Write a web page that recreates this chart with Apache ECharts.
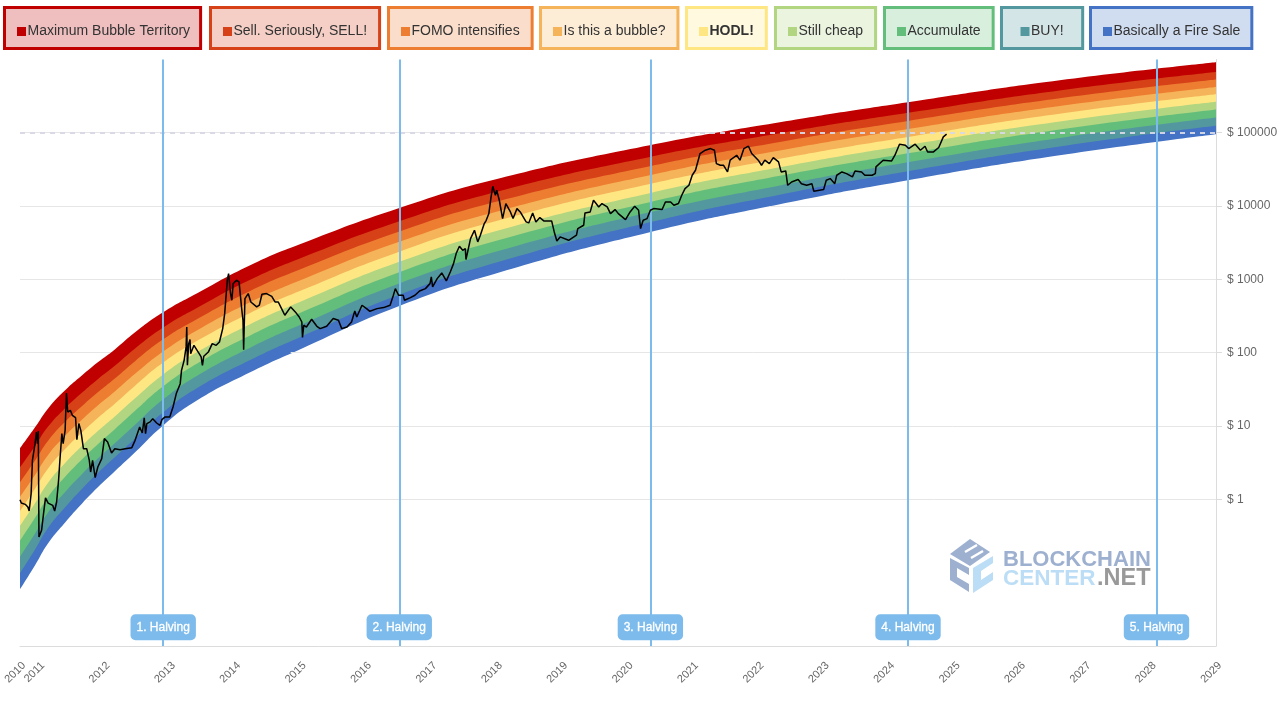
<!DOCTYPE html>
<html>
<head>
<meta charset="utf-8">
<title>Bitcoin Rainbow Price Chart</title>
<script src="https://cdn.jsdelivr.net/npm/echarts@6/dist/echarts.min.js"></script>
<style>
  html, body { margin: 0; padding: 0; background: #fff; }
  #chart { width: 1285px; height: 703px; }
</style>
</head>
<body>
<div id="chart"></div>
<script>
// band names, top band first
const bandNames = ['Maximum Bubble Territory', 'Sell. Seriously, SELL!', 'FOMO intensifies', 'Is this a bubble?', 'HODL!', 'Still cheap', 'Accumulate', 'BUY!', 'Basically a Fire Sale'];
const bandColors = ['#c00000', '#d64118', '#ed7d31', '#f6b45a', '#fee783', '#b1d580', '#63be7b', '#54989f', '#4472c4'];

// axis ticks
const yearTicks = [2010.71, 2011, 2012, 2013, 2014, 2015, 2016, 2017, 2018, 2019, 2020, 2021, 2022, 2023, 2024, 2025, 2026, 2027, 2028, 2029];
const priceTicks = [1, 10, 100, 1000, 10000, 100000];
const priceMin = 0.01;

// year where each grid line comes out from under the rainbow
const gridPrices = [1, 10, 100, 1000, 10000];
const gridExitYears = [2011.73, 2012.89, 2014.85, 2017.70, 2022.17];

// halvings
const halvingYears = [2012.90, 2016.51, 2020.35, 2024.29, 2028.09];
const halvingNames = ['1. Halving', '2. Halving', '3. Halving', '4. Halving', '5. Halving'];
const halvingLabelPrice = 0.018;

// rainbow edges read at these years
const edgeYears = [2010.71, 2010.94, 2011.14, 2011.40, 2011.66, 2011.90, 2012.16, 2012.47, 2012.90, 2013.42, 2014.23, 2014.99, 2016.50, 2018.05, 2020.34, 2022.33, 2024.29, 2026.61, 2029];
const edge0 = [4.97, 9.59, 17.4, 30.7, 49.2, 74.0, 111, 190, 356, 646, 1556, 3010, 9330, 23900, 67500, 139000, 261000, 520000, 916000];
const edge1 = [2.73, 5.35, 9.82, 17.5, 28.6, 43.6, 66.2, 114, 220, 410, 989, 1930, 6170, 16100, 46700, 98200, 187000, 378000, 675000];
const edge2 = [1.71, 3.39, 6.30, 11.4, 18.7, 28.8, 44.4, 76.7, 152, 288, 695, 1360, 4460, 11800, 35000, 75000, 145000, 295000, 532000];
const edge3 = [1.08, 2.15, 4.04, 7.35, 12.3, 19.1, 29.6, 51.6, 104, 203, 489, 966, 3230, 8650, 26300, 57100, 112000, 231000, 420000];
const edge4 = [0.692, 1.40, 2.64, 4.85, 8.22, 12.9, 20.2, 35.5, 73.3, 145, 349, 693, 2370, 6440, 20000, 44200, 87700, 182000, 335000];
const edge5 = [0.435, 0.885, 1.69, 3.13, 5.38, 8.53, 13.5, 23.9, 50.5, 102, 245, 491, 1720, 4720, 15000, 33700, 67800, 142000, 264000];
const edge6 = [0.273, 0.561, 1.08, 2.03, 3.53, 5.65, 9.04, 16.1, 34.8, 71.4, 172, 347, 1240, 3460, 11300, 25800, 52400, 111000, 208000];
const edge7 = [0.164, 0.341, 0.665, 1.26, 2.22, 3.60, 5.82, 10.4, 23.1, 48.6, 117, 238, 873, 2470, 8240, 19100, 39500, 84700, 161000];
const edge8 = [0.0984, 0.207, 0.409, 0.782, 1.40, 2.29, 3.74, 6.75, 15.4, 33.0, 79.6, 163, 612, 1750, 6010, 14300, 29800, 64700, 124000];
const edge9 = [0.0592, 0.126, 0.251, 0.485, 0.881, 1.46, 2.41, 4.38, 10.2, 22.4, 54.1, 111, 430, 1250, 4400, 10600, 22500, 49300, 95500];
const bandEdges = [edge0, edge1, edge2, edge3, edge4, edge5, edge6, edge7, edge8, edge9];

// bitcoin price
const btcYears = [
  2010.71, 2010.73, 2010.79, 2010.83, 2010.85, 2010.88, 2010.90, 2010.94, 2010.96, 2010.98, 2010.99, 2011.00, 2011.03, 2011.04, 2011.07, 2011.10, 2011.14, 2011.21, 2011.24, 2011.27,
  2011.30, 2011.32, 2011.35, 2011.37, 2011.40, 2011.42, 2011.44, 2011.48, 2011.51, 2011.56, 2011.58, 2011.61, 2011.64, 2011.68, 2011.73, 2011.77, 2011.79, 2011.82, 2011.86, 2011.90,
  2011.96, 2012.00, 2012.05, 2012.11, 2012.16, 2012.24, 2012.32, 2012.42, 2012.47, 2012.54, 2012.58, 2012.61, 2012.63, 2012.65, 2012.70, 2012.74, 2012.80, 2012.85, 2012.88, 2012.93,
  2013.00, 2013.05, 2013.10, 2013.16, 2013.18, 2013.22, 2013.25, 2013.26, 2013.27, 2013.29, 2013.31, 2013.32, 2013.37, 2013.40, 2013.45, 2013.48, 2013.50, 2013.52, 2013.59, 2013.65,
  2013.71, 2013.76, 2013.81, 2013.84, 2013.88, 2013.90, 2013.93, 2013.95, 2013.97, 2014.02, 2014.06, 2014.10, 2014.12, 2014.13, 2014.15, 2014.20, 2014.24, 2014.27, 2014.33, 2014.37,
  2014.41, 2014.48, 2014.56, 2014.61, 2014.66, 2014.71, 2014.76, 2014.85, 2014.92, 2014.98, 2015.02, 2015.03, 2015.05, 2015.09, 2015.17, 2015.25, 2015.30, 2015.40, 2015.50, 2015.58,
  2015.63, 2015.71, 2015.78, 2015.83, 2015.86, 2015.94, 2016.01, 2016.06, 2016.17, 2016.27, 2016.37, 2016.42, 2016.45, 2016.50, 2016.57, 2016.59, 2016.68, 2016.75, 2016.82, 2016.91,
  2016.98, 2017.00, 2017.02, 2017.09, 2017.16, 2017.23, 2017.29, 2017.34, 2017.38, 2017.43, 2017.48, 2017.52, 2017.53, 2017.60, 2017.66, 2017.71, 2017.75, 2017.81, 2017.84, 2017.88,
  2017.91, 2017.94, 2017.98, 2018.00, 2018.04, 2018.09, 2018.14, 2018.17, 2018.21, 2018.25, 2018.31, 2018.36, 2018.45, 2018.49, 2018.55, 2018.60, 2018.66, 2018.72, 2018.84, 2018.88,
  2018.92, 2018.97, 2019.10, 2019.22, 2019.24, 2019.33, 2019.35, 2019.43, 2019.48, 2019.52, 2019.56, 2019.61, 2019.69, 2019.74, 2019.81, 2019.86, 2019.97, 2020.04, 2020.11, 2020.17,
  2020.20, 2020.24, 2020.30, 2020.35, 2020.40, 2020.53, 2020.58, 2020.66, 2020.71, 2020.78, 2020.83, 2020.88, 2020.94, 2020.99, 2021.04, 2021.11, 2021.19, 2021.22, 2021.27, 2021.33,
  2021.36, 2021.42, 2021.47, 2021.53, 2021.57, 2021.67, 2021.72, 2021.78, 2021.85, 2021.90, 2022.00, 2022.05, 2022.10, 2022.17, 2022.23, 2022.31, 2022.35, 2022.42, 2022.45, 2022.51,
  2022.61, 2022.66, 2022.74, 2022.82, 2022.85, 2023.00, 2023.04, 2023.10, 2023.17, 2023.20, 2023.28, 2023.35, 2023.44, 2023.48, 2023.58, 2023.63, 2023.74, 2023.79, 2023.80, 2023.91,
  2024.04, 2024.09, 2024.16, 2024.25, 2024.30, 2024.40, 2024.48, 2024.55, 2024.59, 2024.68, 2024.76, 2024.83, 2024.88
];
const btcPrices = [
  0.99, 0.89, 0.855, 0.785, 0.693, 1.19, 3.40, 5.74, 8.3, 5.74, 8.55, 0.306, 0.30, 0.378, 0.637, 1.05, 0.89, 0.828, 0.693, 0.92,
  1.82, 3.40, 7.87, 5.74, 8.73, 28.2, 15.5, 16.4, 14.0, 13.0, 6.52, 10.8, 8.73, 4.91, 4.91, 3.40, 2.36, 3.40, 1.98, 2.76,
  3.59, 6.73, 6.05, 4.29, 4.91, 4.76, 4.91, 5.07, 6.38, 9.70, 8.03, 12.9, 7.87, 10.8, 11.4, 12.6, 11.0, 10.2, 12.2, 13.3,
  13.3, 18.2, 27.7, 37.8, 57.5, 78.7, 120, 224, 67.3, 133, 151, 97, 126, 130, 97, 87.5, 67.3, 89.3, 102, 133,
  126, 140, 213, 341, 973, 1200, 640, 519, 875, 973, 923, 399, 277, 110, 547, 640, 492, 519, 421, 444,
  627, 640, 587, 492, 492, 399, 324, 421, 360, 307, 262, 161, 237, 224, 286, 229, 213, 229, 292, 277,
  213, 224, 262, 371, 307, 444, 399, 367, 399, 412, 444, 607, 748, 607, 607, 519, 564, 607, 695, 748,
  875, 1080, 789, 1023, 1224, 953, 1262, 1641, 2249, 2831, 2495, 2630, 1862, 3597, 4677, 3243, 4000, 5768, 6397, 7889,
  12650, 18620, 14030, 16440, 12000, 6745, 10810, 10250, 8318, 6745, 9226, 8318, 6081, 5888, 8054, 6081, 6966, 6266, 6266, 4436,
  3342, 3793, 3412, 4000, 4932, 5470, 8054, 8318, 12000, 10810, 9727, 10810, 9727, 7889, 8954, 7889, 6531, 8318, 9931, 8770,
  4932, 6397, 6745, 8770, 9226, 8954, 11380, 11380, 10250, 10810, 14030, 17300, 19230, 26300, 30760, 52000, 57700, 54700, 60800, 57700,
  37900, 36000, 36000, 29200, 42200, 49300, 42200, 60800, 65500, 52000, 42200, 36000, 42200, 37900, 45800, 40000, 29200, 30100, 19200, 21300,
  23000, 20200, 19200, 20200, 15900, 16800, 22500, 23700, 20200, 26300, 29200, 27700, 25000, 30100, 29200, 26300, 26300, 27700, 34200, 42200,
  41300, 49300, 69700, 67500, 60800, 69700, 57700, 65500, 54700, 54700, 62800, 87700, 95500
];

// legend box left edges and inner side padding
const legendLefts = [3, 209, 387, 539, 685, 774, 883, 1000, 1089];
const legendPadLeft = [12.5, 12.5, 12.5, 12.5, 12.5, 12.5, 12.5, 19, 12.5];
const legendPadRight = [10.5, 12.5, 12.5, 12.5, 12.5, 12.5, 12.5, 19, 11.5];
const gridColor = '#e6e6e6';
const axisColor = '#dcdcdc';
const halvingColor = '#7cbbeb';
const fontName = '"Liberation Sans", Arial, sans-serif';

const maxYear = yearTicks[yearTicks.length - 1];

function hexToRgba(hex, a) {
  const n = parseInt(hex.slice(1), 16);
  return 'rgba(' + (n >> 16) + ',' + ((n >> 8) & 255) + ',' + (n & 255) + ',' + a + ')';
}

// each edge fills down to the axis, next band paints over it
function edgeSeries(name, edge, color, z) {
  return {
    name: name,
    type: 'line',
    z: z,
    silent: true,
    showSymbol: false,
    symbol: 'none',
    smooth: 0.5,
    itemStyle: { color: color },
    lineStyle: { width: 0 },
    areaStyle: { color: color, opacity: 1, origin: priceMin },
    data: edgeYears.map((y, i) => [y, edge[i]])
  };
}

const bandSeries = bandNames.map((name, i) => edgeSeries(name, bandEdges[i], bandColors[i], i + 1));
// white under the bottom band
bandSeries.push(edgeSeries('floor', edge9, '#fff', 10));

const legends = bandNames.map((name, i) => ({
  data: [name],
  left: legendLefts[i] + 1.5,
  top: 7.5,
  orient: 'horizontal',
  selectedMode: false,
  icon: 'rect',
  itemWidth: 9,
  itemHeight: 9,
  padding: [17, legendPadRight[i], 10, legendPadLeft[i]],
  backgroundColor: hexToRgba(bandColors[i], 0.25),
  borderColor: bandColors[i],
  borderWidth: 3,
  borderRadius: 0,
  itemStyle: { color: bandColors[i], borderWidth: 0 },
  textStyle: {
    fontFamily: fontName,
    fontSize: 14,
    color: '#333',
    fontWeight: name === 'HODL!' ? 'bold' : 'normal',
    padding: [0, 0, 0, -3.5]
  }
}));

// blockchaincenter logo + wordmark
const logoDark = '#9db0d0';
const logoLight = '#bbddf5';
const watermark = [
  { type: 'polygon', z: 20, shape: { points: [[950, 554], [970, 539], [990, 552], [970, 566]] }, style: { fill: logoDark } },
  { type: 'line', z: 20, shape: { x1: 965, y1: 552, x2: 977, y2: 545 }, style: { stroke: '#fff', lineWidth: 2.5 } },
  { type: 'line', z: 20, shape: { x1: 971, y1: 558, x2: 983, y2: 551 }, style: { stroke: '#fff', lineWidth: 2.5 } },
  { type: 'polygon', z: 20, shape: { points: [[950, 558], [969, 568], [969, 575], [957, 568], [957, 577], [969, 584], [969, 592], [950, 580]] }, style: { fill: logoDark } },
  { type: 'polygon', z: 20, shape: { points: [[973, 568], [993, 556], [993, 563], [981, 571], [981, 580], [993, 572], [993, 580], [973, 593]] }, style: { fill: logoLight } },
  { type: 'text', z: 20, x: 1003, y: 549, style: { text: 'BLOCKCHAIN', fill: logoDark, font: 'bold 22px ' + fontName } },
  { type: 'text', z: 20, x: 1003, y: 567, style: { text: 'CENTER', fill: logoLight, font: 'bold 22.5px ' + fontName } },
  { type: 'text', z: 20, x: 1097, y: 567, style: { text: '.NET', fill: '#999', font: 'bold 23.5px ' + fontName } }
];

const chart = echarts.init(document.getElementById('chart'), null, { renderer: 'canvas' });

chart.setOption({
  animation: false,
  backgroundColor: '#fff',
  textStyle: { fontFamily: fontName },
  legend: legends,
  grid: { left: 20, right: 69, top: 59.4, bottom: 57, containLabel: false, outerBoundsMode: 'none' },
  graphic: watermark,
  xAxis: {
    type: 'value',
    z: 14,
    min: yearTicks[0],
    max: maxYear,
    axisLine: { show: true, lineStyle: { color: axisColor } },
    axisTick: { show: false },
    splitLine: { show: false },
    axisLabel: {
      customValues: yearTicks,
      rotate: 45,
      margin: 14,
      verticalAlign: 'top',
      color: '#666',
      fontSize: 11,
      fontFamily: fontName,
      hideOverlap: false,
      formatter: v => String(Math.floor(v))
    }
  },
  yAxis: {
    type: 'log',
    logBase: 10,
    position: 'right',
    min: priceMin,
    max: 1000000,
    axisLine: { show: true, lineStyle: { color: axisColor } },
    axisTick: { show: true, length: 6, customValues: priceTicks, lineStyle: { color: axisColor } },
    splitLine: { show: true, lineStyle: { color: gridColor } },
    axisLabel: {
      customValues: priceTicks,
      margin: 11,
      color: '#666',
      fontSize: 12,
      fontFamily: fontName,
      formatter: v => '$ ' + v
    }
  },
  series: bandSeries.concat([
    {
      // grid lines and right axis again, the white floor hides the originals
      name: 'Grid over floor',
      type: 'line',
      z: 11,
      silent: true,
      data: [],
      markLine: {
        z: 11,
        silent: true,
        symbol: 'none',
        label: { show: false },
        lineStyle: { color: gridColor, type: 'solid', width: 1 },
        data: gridPrices.map((p, i) => [{ coord: [gridExitYears[i], p] }, { coord: [maxYear, p] }]).concat([
          [{ coord: [maxYear, edge9[edge9.length - 1]], lineStyle: { color: axisColor } }, { coord: [maxYear, priceMin], lineStyle: { color: axisColor } }]
        ])
      }
    },
    {
      name: 'BTC',
      type: 'line',
      z: 12,
      silent: true,
      showSymbol: false,
      symbol: 'none',
      lineStyle: { color: '#000', width: 1.5 },
      data: btcYears.map((y, i) => [y, btcPrices[i]]),
      markLine: {
        z: 12,
        silent: true,
        symbol: 'none',
        label: { show: false },
        lineStyle: { color: 'rgba(216,216,230,0.95)', type: [5, 5], width: 2 },
        data: [{ yAxis: 100000 }]
      }
    },
    {
      name: 'Halving lines',
      type: 'line',
      z: 12,
      silent: true,
      data: [],
      markLine: {
        z: 12,
        silent: true,
        symbol: 'none',
        label: { show: false },
        lineStyle: { color: halvingColor, type: 'solid', width: 2 },
        data: halvingYears.map(y => ({ xAxis: y }))
      }
    },
    {
      name: 'Halvings',
      type: 'scatter',
      z: 13,
      silent: true,
      symbolSize: 0,
      itemStyle: { opacity: 1 },
      data: halvingYears.map((y, i) => ({ value: [y, halvingLabelPrice], name: halvingNames[i] })),
      label: {
        show: true,
        position: 'inside',
        formatter: '{b}',
        color: '#fff',
        opacity: 1,
        fontSize: 12,
        fontFamily: fontName,
        textBorderColor: '#fff',
        textBorderWidth: 0.3,
        backgroundColor: halvingColor,
        borderRadius: 5,
        padding: [7, 6]
      }
    }
  ])
});
</script>
</body>
</html>
